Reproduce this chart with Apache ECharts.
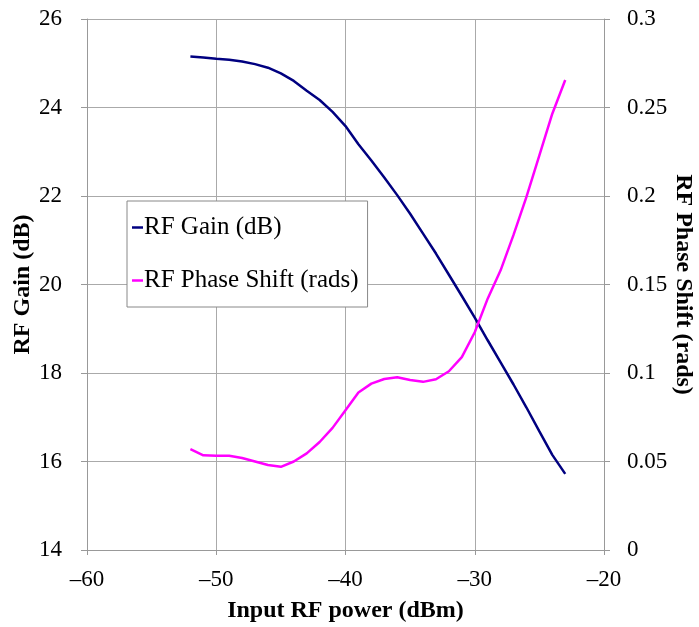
<!DOCTYPE html>
<html><head><meta charset="utf-8">
<script src="https://cdn.jsdelivr.net/npm/echarts@6/dist/echarts.min.js"></script>
<style>html,body{margin:0;padding:0;background:#fff}#c{width:699px;height:627px}</style>
</head><body><div id="c"></div>
<script>
const inputPower = [-52,-51,-50,-49,-48,-47,-46,-45,-44,-43,-42,-41,-40,-39,-38,-37,-36,-35,-34,-33,-32,-31,-30,-29,-28,-27,-26,-25,-24,-23];
const rfGain = [25.15,25.13,25.10,25.08,25.04,24.98,24.90,24.77,24.60,24.38,24.17,23.90,23.58,23.17,22.80,22.42,22.02,21.60,21.15,20.70,20.22,19.74,19.25,18.74,18.24,17.74,17.22,16.68,16.15,15.72];
const rfPhase = [0.057,0.0535,0.0533,0.0533,0.052,0.050,0.048,0.047,0.050,0.0546,0.061,0.069,0.079,0.089,0.094,0.0966,0.0976,0.096,0.095,0.0965,0.101,0.109,0.123,0.142,0.158,0.178,0.1995,0.223,0.2465,0.2655];
const xTicks = [-60,-50,-40,-30,-20];
const seriesNames = ['RF Gain (dB)','RF Phase Shift (rads)'];

const font = 'Liberation Serif';
const chart = echarts.init(document.getElementById('c'));
const axisLine = {show:true, lineStyle:{color:'#999', width:1}};
const split = {show:true, lineStyle:{color:'#aaa', width:1}};
chart.setOption({
  animation:false,
  grid:{left:87, right:95, top:19, bottom:77, outerBoundsMode:'none', containLabel:false},
  legend:{
    orient:'vertical', left:127, top:201,
    padding:[14,9,14,5], itemGap:28, itemWidth:11, itemHeight:2.5,
    backgroundColor:'#fff', borderColor:'#888', borderWidth:1,
    textStyle:{fontFamily:font, fontSize:25, color:'#000', padding:[0,0,0,-4]},
    data:seriesNames.map(n=>({name:n, icon:'rect'}))
  },
  xAxis:{type:'value', min:-60, max:-20, interval:10,
    axisLine:axisLine, splitLine:split,
    axisTick:{show:true, length:5, lineStyle:{color:'#999'}},
    axisLabel:{fontFamily:font, fontSize:23, color:'#000', margin:18,
      formatter:v=>xTicks.includes(v)? String(v).replace('-','\u2013') : ''},
    name:'Input RF power (dBm)', nameLocation:'middle', nameGap:49, nameMoveOverlap:false,
    nameTextStyle:{fontFamily:font, fontSize:24, fontWeight:'bold', color:'#000'}},
  yAxis:[
    {type:'value', min:14, max:26, interval:2, position:'left',
     axisLine:axisLine, splitLine:split,
     axisTick:{show:true, length:6, lineStyle:{color:'#999'}},
     axisLabel:{fontFamily:font, fontSize:23, color:'#000', margin:25},
     name:'RF Gain (dB)', nameLocation:'middle', nameGap:52, nameRotate:90, nameMoveOverlap:false,
     nameTextStyle:{fontFamily:font, fontSize:24, fontWeight:'bold', color:'#000'}},
    {type:'value', min:0, max:0.3, interval:0.05, position:'right',
     axisLine:axisLine, splitLine:{show:false},
     axisTick:{show:true, length:6, lineStyle:{color:'#999'}},
     axisLabel:{fontFamily:font, fontSize:23, color:'#000', margin:23,
       formatter:v=>String(+v.toFixed(2))},
     name:'RF Phase Shift (rads)', nameLocation:'middle', nameGap:67, nameRotate:-90, nameMoveOverlap:false,
     nameTextStyle:{fontFamily:font, fontSize:24, fontWeight:'bold', color:'#000'}}
  ],
  series:[
    {name:seriesNames[0], type:'line', yAxisIndex:0, symbol:'none',
     lineStyle:{color:'#000080', width:2.5}, itemStyle:{color:'#000080'},
     data:inputPower.map((x,i)=>[x, rfGain[i]])},
    {name:seriesNames[1], type:'line', yAxisIndex:1, symbol:'none',
     lineStyle:{color:'#ff00ff', width:2.5}, itemStyle:{color:'#ff00ff'},
     data:inputPower.map((x,i)=>[x, rfPhase[i]])}
  ]
});
</script></body></html>
